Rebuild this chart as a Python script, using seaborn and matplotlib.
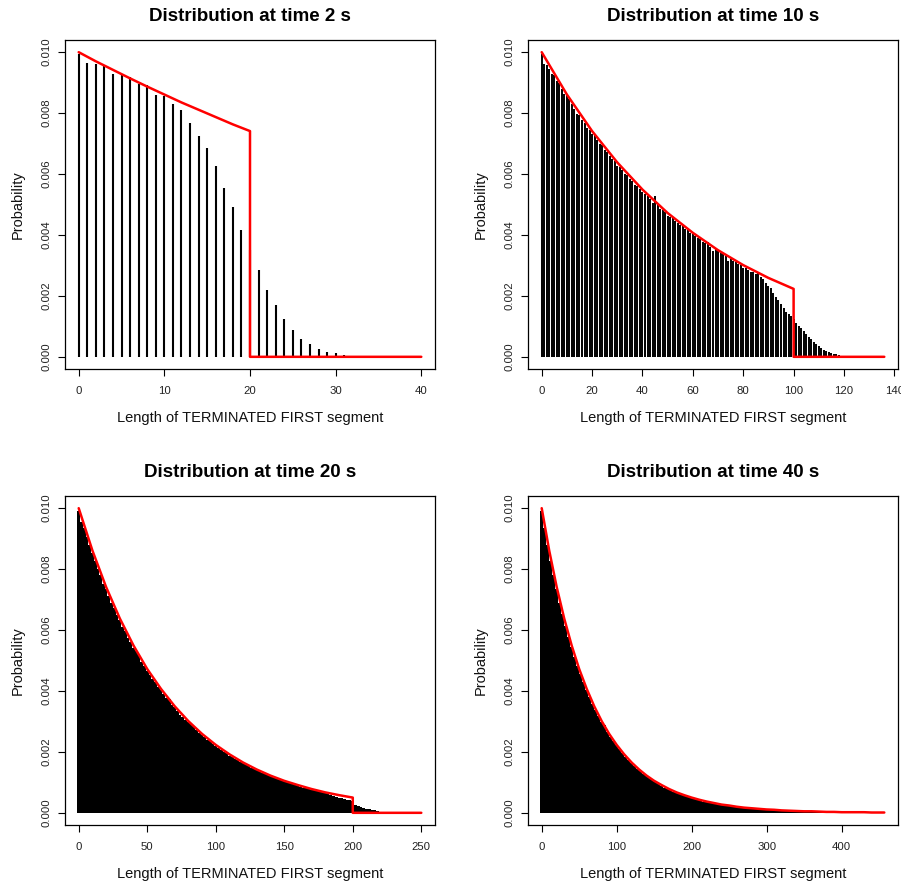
import numpy as np
import matplotlib
matplotlib.use("Agg")
import matplotlib.pyplot as plt
import seaborn as sns

# Probabilities are written in units of 1e-5 (1000 = 0.010)

# time 2 s : one bar per length 0..31
prob_t2 = [995, 966, 960, 956, 930, 924, 919, 894, 891, 858,
           855, 831, 809, 766, 726, 686, 627, 553, 491, 417,
           350, 284, 219, 171, 125, 87, 60, 41, 26, 16,
           11, 7]

# time 10 s : one bar per length 0..121
prob_t10 = [995, 962, 958, 946, 930, 925, 905, 898, 880, 862,
            858, 845, 830, 812, 798, 795, 778, 768, 752, 745,
            732, 728, 712, 700, 695, 680, 672, 660, 650, 642,
            628, 622, 612, 600, 598, 585, 578, 565, 560, 552,
            540, 535, 528, 518, 506, 528, 500, 486, 482, 476,
            462, 460, 455, 446, 440, 432, 428, 420, 415, 405,
            402, 396, 390, 386, 378, 375, 378, 362, 348, 354,
            348, 342, 336, 330, 316, 322, 315, 310, 306, 300,
            293, 290, 285, 278, 280, 272, 275, 262, 256, 242,
            233, 225, 210, 196, 185, 172, 160, 148, 142, 135,
            125, 110, 102, 94, 85, 76, 66, 58, 50, 42,
            35, 29, 24, 20, 16, 13, 10, 8, 6, 4,
            3, 2]

# time 20 s : every 2nd length 0..222
prob_t20 = [990, 955, 935, 905, 880, 852, 828, 800, 782, 752,
            735, 712, 690, 672, 648, 632, 610, 596, 575, 562,
            540, 530, 522, 495, 482, 466, 452, 440, 428, 412,
            402, 390, 378, 372, 355, 346, 334, 322, 316, 305,
            297, 290, 286, 272, 262, 255, 248, 240, 236, 226,
            220, 214, 206, 200, 195, 188, 183, 178, 173, 167,
            162, 158, 154, 148, 145, 140, 136, 131, 128, 124,
            120, 117, 113, 110, 107, 103, 100, 97, 94, 91,
            89, 86, 83, 81, 78, 76, 74, 71, 69, 67,
            64, 61, 58, 56, 53, 50, 48, 45, 43, 41,
            38, 25, 22, 19, 16, 14, 12, 10, 8, 6,
            4, 2]

# time 40 s : every 4th length 0..400
prob_t40 = [990, 935, 880, 828, 780, 735, 690, 652, 612, 578,
            543, 512, 483, 455, 428, 403, 380, 358, 337, 317,
            299, 288, 265, 249, 235, 221, 210, 196, 184, 174,
            163, 154, 145, 136, 128, 120, 113, 107, 100, 94,
            89, 83, 78, 74, 69, 65, 61, 57, 54, 51,
            48, 45, 42, 40, 37, 35, 33, 31, 29, 27,
            25, 24, 22, 21, 20, 18, 17, 16, 15, 14,
            13, 12, 11, 11, 10, 9, 9, 8, 8, 7,
            7, 6, 6, 5, 5, 5, 4, 4, 4, 3,
            3, 3, 3, 2, 2, 2, 2, 2, 1, 1,
            1]

# red theoretical curves (x, y in 1e-5)
fit_t2_x = [0, 2, 4, 6, 8, 10, 12, 14, 16, 18, 20, 20, 40]
fit_t2_y = [1000, 970, 942, 914, 887, 861, 835, 811, 787, 763, 741, 0, 0]

fit_t10_x = [0, 10, 20, 30, 40, 50, 60, 70, 80, 90, 100, 100, 136]
fit_t10_y = [1000, 861, 741, 638, 549, 472, 407, 350, 301, 259, 223, 0, 0]

fit_t20_x = [0, 10, 20, 30, 40, 50, 60, 70, 80, 90, 100, 110, 120, 130, 140,
             150, 160, 170, 180, 190, 200, 200, 250]
fit_t20_y = [1000, 861, 741, 638, 549, 472, 407, 350, 301, 259, 223, 192, 165, 142, 122,
             105, 91, 78, 67, 58, 50, 0, 0]

fit_t40_x = [0, 10, 20, 30, 40, 50, 60, 70, 80, 90, 100, 110, 120, 130, 140,
             150, 160, 170, 180, 190, 200, 210, 220, 230, 240, 250, 260, 270, 280, 290,
             300, 310, 320, 330, 340, 350, 360, 370, 380, 390, 400, 410, 420, 430, 440,
             450, 457]
fit_t40_y = [1000, 861, 741, 638, 549, 472, 407, 350, 301, 259, 223, 192, 165, 142, 122,
             105, 91, 78, 67, 58, 50, 43, 37, 32, 27, 24, 20, 17, 15, 13,
             11, 10, 8, 7, 6, 5, 5, 4, 3, 3, 2, 2, 2, 2, 1,
             1, 1]

times = [2, 10, 20, 40]
bar_vals = [prob_t2, prob_t10, prob_t20, prob_t40]
bar_step = [1, 1, 2, 4]
fit_x = [fit_t2_x, fit_t10_x, fit_t20_x, fit_t40_x]
fit_y = [fit_t2_y, fit_t10_y, fit_t20_y, fit_t40_y]
x_max = [40, 136, 250, 457]
x_ticks = [[0, 10, 20, 30, 40], [0, 20, 40, 60, 80, 100, 120, 140],
           [0, 50, 100, 150, 200, 250], [0, 100, 200, 300, 400]]
y_ticks = [0.000, 0.002, 0.004, 0.006, 0.008, 0.010]

sns.set_theme(style="white")
plt.rcParams['font.family'] = ['Liberation Sans', 'DejaVu Sans']

W, H = 901, 886
fig = plt.figure(figsize=(W / 100, H / 100), dpi=100)
box_w, box_h = 370, 329
corners = [(65, 40), (528, 40), (65, 496), (528, 496)]

for i, (left, top) in enumerate(corners):
    ax = fig.add_axes([left / W, 1 - (top + box_h) / H, box_w / W, box_h / H])
    xs = np.arange(len(bar_vals[i])) * bar_step[i]
    ys = np.array(bar_vals[i]) * 1e-5
    if bar_step[i] == 1:
        ax.vlines(xs, 0, ys, color='black', lw=1.5 if i == 0 else 1.4)
    else:
        ax.bar(xs, ys, width=bar_step[i], color='black', linewidth=0)

    sns.lineplot(x=fit_x[i], y=np.array(fit_y[i]) * 1e-5, ax=ax, color='#ff0000',
                 lw=1.8, estimator=None, sort=False)

    pad = 0.04 * x_max[i]
    ax.set_xlim(-pad, x_max[i] + pad)
    ax.set_ylim(-0.0004, 0.0104)
    ax.set_xticks(x_ticks[i])
    ax.set_yticks(y_ticks)
    ax.set_yticklabels([f"{v:.3f}" for v in y_ticks])
    for lab in ax.get_yticklabels():
        lab.set_rotation(90)
        lab.set_va('center')
    for sp in ax.spines.values():
        sp.set_color('black')
        sp.set_linewidth(0.9)
    ax.tick_params(direction='out', length=5, width=0.8, color='black',
                   labelsize=8.2, labelcolor='#222222', pad=5, bottom=True, left=True)
    ax.tick_params(axis='x', pad=7.5)
    ax.grid(False)

    ax.set_title(f"Distribution at time {times[i]} s", fontsize=13.5,
                 fontweight='bold', pad=14, color='black')
    ax.set_xlabel("Length of TERMINATED FIRST segment", fontsize=10.5,
                  labelpad=10.5, color='#111111')
    ax.set_ylabel("Probability", fontsize=10.5, labelpad=12, color='#111111')

fig.savefig('out.png', dpi=100)
